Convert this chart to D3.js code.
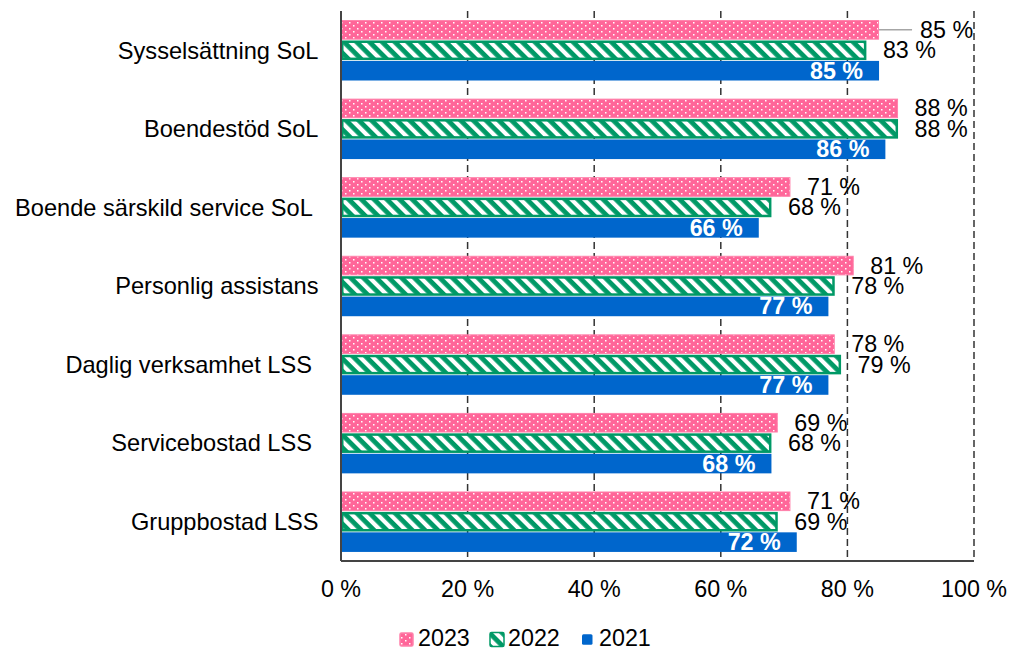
<!DOCTYPE html>
<html><head><meta charset="utf-8">
<script src="https://cdn.jsdelivr.net/npm/d3@7"></script>
<style>body{margin:0;background:#fff;}svg{display:block;font-family:"Liberation Sans",Arial,sans-serif;}</style>
</head><body>
<svg id="c" width="1009" height="650"></svg>
<script>
const categories = ["Sysselsättning SoL","Boendestöd SoL","Boende särskild service SoL ","Personlig assistans","Daglig verksamhet LSS ","Servicebostad LSS ","Gruppbostad LSS"];
const series = ["2023","2022","2021"];
const values2023 = [85,88,71,81,78,69,71];
const values2022 = [83,88,68,78,79,68,69];
const values2021 = [85,86,66,77,77,68,72];
const xTicks = [0,20,40,60,80,100];
const tickLabels = ["0 %","20 %","40 %","60 %","80 %","100 %"];

const FS = 23.3;
const svg = d3.select("#c");
const defs = svg.append("defs");
// dots pattern
const pd = defs.append("pattern").attr("id","dots").attr("patternUnits","userSpaceOnUse").attr("width",8).attr("height",6);
pd.append("rect").attr("width",8).attr("height",6).attr("fill","#ff6699");
pd.append("rect").attr("x",1).attr("y",1).attr("width",1.5).attr("height",1.5).attr("fill","#fff");
pd.append("rect").attr("x",5).attr("y",4).attr("width",1.5).attr("height",1.5).attr("fill","#fff");
// diagonal stripes
const ps = defs.append("pattern").attr("id","stripes").attr("patternUnits","userSpaceOnUse").attr("width",9).attr("height",9).attr("patternTransform","rotate(45)");
ps.append("rect").attr("width",9).attr("height",9).attr("fill","#fff");
ps.append("rect").attr("width",9).attr("height",4.8).attr("fill","#009966");

const x = d3.scaleLinear().domain([0,100]).range([341,974]);
const y = d3.scaleBand().domain(categories).range([11,561]).paddingInner(0.21).paddingOuter(0.105);
const ys = d3.scaleBand().domain(series).range([0,y.bandwidth()]).padding(0.04);

// gridlines
svg.append("g").selectAll("line").data(xTicks.slice(1)).join("line")
  .attr("x1",d=>x(d)).attr("x2",d=>x(d)).attr("y1",11).attr("y2",561)
  .attr("stroke","#333").attr("stroke-width",1.5).attr("stroke-dasharray","7,4");

const data = categories.map((c,i)=>({c, v:{"2023":values2023[i],"2022":values2022[i],"2021":values2021[i]}}));
const fills = {"2023":"url(#dots)","2022":"url(#stripes)","2021":"#0066cc"};
const strokes = {"2023":"#ff80aa","2022":"#009966","2021":"none"};

const g = svg.append("g");
data.forEach(d=>{
  series.forEach(s=>{
    const by = y(d.c)+ys(s), bh = ys.bandwidth();
    const sw = s==="2022"?2.5:(s==="2023"?1:0);
    g.append("rect").attr("x",x(0)+sw/2).attr("y",by+sw/2).attr("width",x(d.v[s])-x(0)-sw).attr("height",bh-sw)
      .attr("fill",fills[s]).attr("stroke",strokes[s]).attr("stroke-width",sw);
  });
});

// axes lines
svg.append("line").attr("x1",x(0)).attr("x2",x(0)).attr("y1",11).attr("y2",561).attr("stroke","#444").attr("stroke-width",2);
svg.append("line").attr("x1",x(0)).attr("x2",x(100)).attr("y1",561).attr("y2",561).attr("stroke","#444").attr("stroke-width",2);

// labels
data.forEach((d,i)=>{
  series.forEach(s=>{
    const by = y(d.c)+ys(s), bh = ys.bandwidth();
    const xe = x(d.v[s]);
    if(s==="2021"){
      g.append("text").attr("x",xe-16).attr("y",by+bh/2+8).attr("text-anchor","end")
        .attr("font-size",FS).attr("font-weight","bold").attr("fill","#fff").text(d.v[s]+" %");
    } else {
      let lx = xe+16.5;
      if(i===0 && s==="2023"){
        lx = xe+41;
        g.append("line").attr("x1",xe).attr("x2",xe+33).attr("y1",by+bh/2).attr("y2",by+bh/2).attr("stroke","#a6a6a6").attr("stroke-width",1.5);
      }
      g.append("text").attr("x",lx).attr("y",by+bh/2+8).attr("font-size",FS).attr("fill","#000").text(d.v[s]+" %");
    }
  });
});

// category labels
svg.append("g").selectAll("text").data(categories).join("text")
  .attr("x",318.5).attr("y",d=>y(d)+y.bandwidth()/2+8.3).attr("text-anchor","end")
  .style("white-space","pre")
  .attr("font-size",23.6).attr("fill","#000").text(d=>d);

// tick labels
svg.append("g").selectAll("text").data(xTicks).join("text")
  .attr("x",d=>x(d)).attr("y",597).attr("text-anchor","middle").attr("font-size",FS).attr("fill","#000")
  .text((d,i)=>tickLabels[i]);

// legend
const leg = [{s:"2023",x:400,fill:"url(#dots)",stroke:"#ff80aa",sz:13,tx:418},{s:"2022",x:490,fill:"url(#stripes)",stroke:"#009966",sz:14,tx:508},{s:"2021",x:582,fill:"#0066cc",stroke:"none",sz:10.5,tx:599}];
leg.forEach(l=>{
  svg.append("rect").attr("x",l.x).attr("y",639.5-l.sz/2).attr("width",l.sz).attr("height",l.sz).attr("fill",l.fill).attr("stroke",l.stroke).attr("stroke-width",l.stroke==="none"?0:1.5).attr("rx",1.5);
  svg.append("text").attr("x",l.tx).attr("y",646).attr("font-size",FS).attr("fill","#000").text(l.s);
});
</script>
</body></html>
